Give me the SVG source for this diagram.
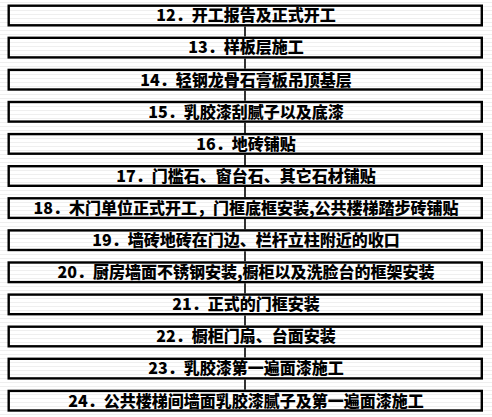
<svg xmlns="http://www.w3.org/2000/svg" width="492" height="417" viewBox="0 0 492 417">
  <defs>
    <pattern id="stripes" x="0" y="0" width="8" height="4" patternUnits="userSpaceOnUse">
      <rect x="0" y="0" width="8" height="4" fill="#ffffff"/>
      <rect x="0" y="2" width="8" height="1" fill="#efefef"/>
    </pattern>
  </defs>
  <style>
    .box { fill: url(#stripes); stroke: #000000; stroke-width: 2.4; }
    .lbl { font-family: "Noto Sans CJK SC", "Noto Sans", sans-serif; font-weight: 900; font-size: 16px; fill: #000000; text-anchor: middle; }
    .conn { stroke: #000000; stroke-width: 1.6; fill: none; }
  </style>
  <rect x="0" y="0" width="492" height="417" fill="url(#stripes)"/>

  <g id="connectors">
    <line class="conn" x1="245" y1="26.5" x2="245" y2="36.6"/>
    <line class="conn" x1="245" y1="58.6" x2="245" y2="68.7"/>
    <line class="conn" x1="245" y1="90.7" x2="245" y2="100.8"/>
    <line class="conn" x1="245" y1="122.8" x2="245" y2="132.9"/>
    <line class="conn" x1="245" y1="154.9" x2="245" y2="165"/>
    <line class="conn" x1="245" y1="187" x2="245" y2="197.1"/>
    <line class="conn" x1="245" y1="219.1" x2="245" y2="229.2"/>
    <line class="conn" x1="245" y1="251.2" x2="245" y2="261.3"/>
    <line class="conn" x1="245" y1="283.3" x2="245" y2="293.4"/>
    <line class="conn" x1="245" y1="315.4" x2="245" y2="325.5"/>
    <line class="conn" x1="245" y1="347.5" x2="245" y2="357.6"/>
    <line class="conn" x1="245" y1="379.6" x2="245" y2="389.7"/>
  </g>

  <g id="n12"><rect class="box" x="8.7" y="5.7" width="473.1" height="19.6"/><text class="lbl" x="246" y="21.3">12．开工报告及正式开工</text></g>
  <g id="n13"><rect class="box" x="8.7" y="37.8" width="473.1" height="19.6"/><text class="lbl" x="246" y="53.4">13．样板层施工</text></g>
  <g id="n14"><rect class="box" x="8.7" y="69.9" width="473.1" height="19.6"/><text class="lbl" x="246" y="85.5">14．轻钢龙骨石膏板吊顶基层</text></g>
  <g id="n15"><rect class="box" x="8.7" y="102" width="473.1" height="19.6"/><text class="lbl" x="246" y="117.6">15．乳胶漆刮腻子以及底漆</text></g>
  <g id="n16"><rect class="box" x="8.7" y="134.1" width="473.1" height="19.6"/><text class="lbl" x="246" y="149.7">16．地砖铺贴</text></g>
  <g id="n17"><rect class="box" x="8.7" y="166.2" width="473.1" height="19.6"/><text class="lbl" x="246" y="181.8">17．门槛石、窗台石、其它石材铺贴</text></g>
  <g id="n18"><rect class="box" x="8.7" y="198.3" width="473.1" height="19.6"/><text class="lbl" x="246" y="213.9">18．木门单位正式开工，门框底框安装,公共楼梯踏步砖铺贴</text></g>
  <g id="n19"><rect class="box" x="8.7" y="230.4" width="473.1" height="19.6"/><text class="lbl" x="246" y="246">19．墙砖地砖在门边、栏杆立柱附近的收口</text></g>
  <g id="n20"><rect class="box" x="8.7" y="262.5" width="473.1" height="19.6"/><text class="lbl" x="246" y="278.1">20．厨房墙面不锈钢安装,橱柜以及洗脸台的框架安装</text></g>
  <g id="n21"><rect class="box" x="8.7" y="294.6" width="473.1" height="19.6"/><text class="lbl" x="246" y="310.2">21．正式的门框安装</text></g>
  <g id="n22"><rect class="box" x="8.7" y="326.7" width="473.1" height="19.6"/><text class="lbl" x="246" y="342.3">22．橱柜门扇、台面安装</text></g>
  <g id="n23"><rect class="box" x="8.7" y="358.8" width="473.1" height="19.6"/><text class="lbl" x="246" y="374.4">23．乳胶漆第一遍面漆施工</text></g>
  <g id="n24"><rect class="box" x="8.7" y="390.9" width="473.1" height="19.6"/><text class="lbl" x="246" y="406.5">24．公共楼梯间墙面乳胶漆腻子及第一遍面漆施工</text></g>
</svg>
